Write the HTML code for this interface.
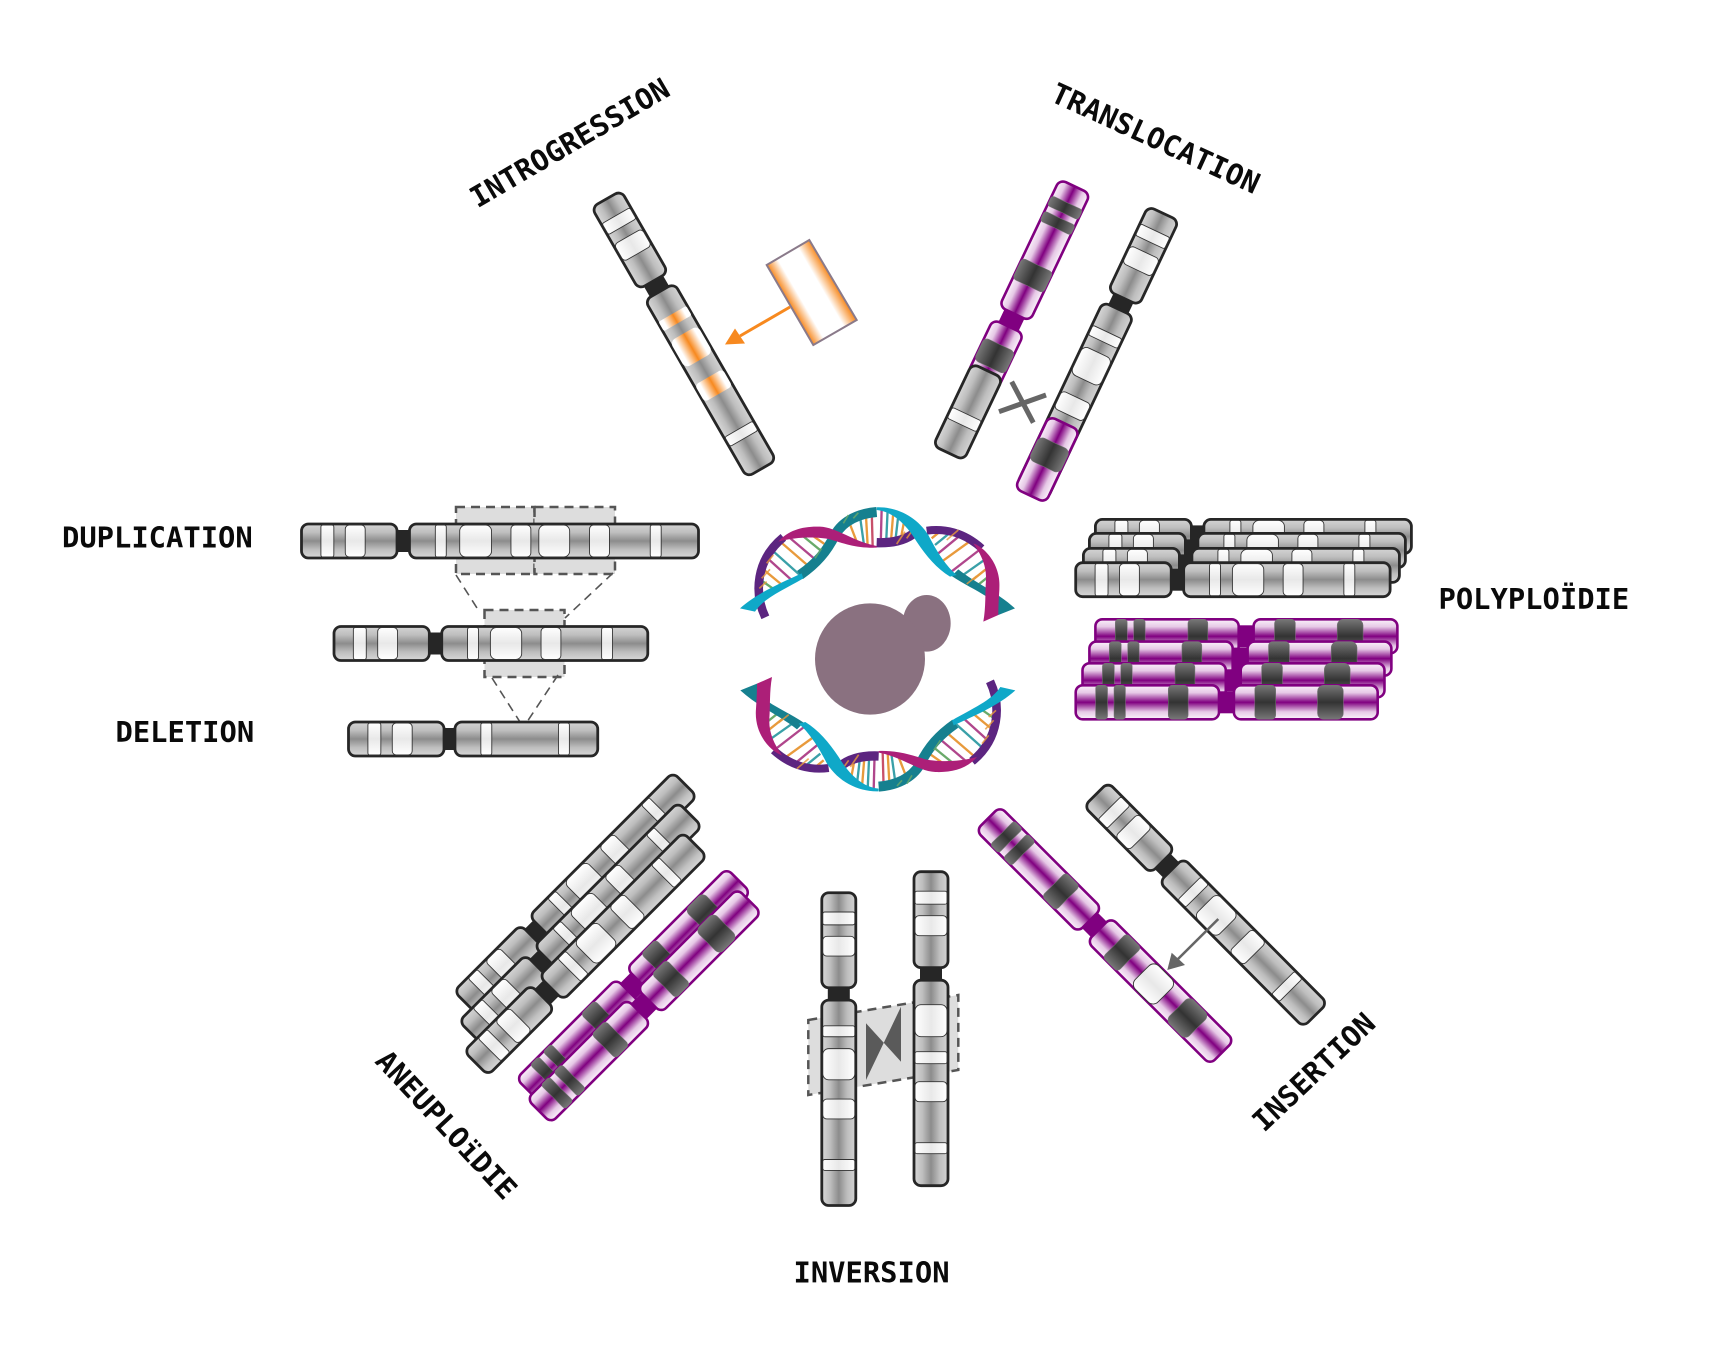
<!DOCTYPE html>
<html><head><meta charset="utf-8"><style>
html,body{margin:0;padding:0;background:#fff}
svg{display:block}
text{font-family:"DejaVu Sans Mono","Liberation Mono",monospace;font-weight:bold;font-size:28.8px;fill:#0a0a0a}
.a{fill:url(#gr);stroke:#262626;stroke-width:2.8}
.w{fill:url(#wh);stroke:#333;stroke-width:.9}
.c{fill:#262626}
.p{fill:url(#pu);stroke:#800080;stroke-width:2.6}
.d{fill:url(#dk);stroke:#777;stroke-width:.5}
.m{fill:#800080}
.box{fill:#ddd;stroke:#555;stroke-width:2.5;stroke-dasharray:9 6}
.dl{fill:none;stroke:#555;stroke-width:1.6;stroke-dasharray:9 6}
</style></head><body>
<svg width="1732" height="1346" viewBox="0 0 1732 1346" xmlns="http://www.w3.org/2000/svg">
<defs>
<linearGradient id="gr" x1="0" y1="0" x2="0" y2="1"><stop offset="0" stop-color="#d4d4d4"/><stop offset=".25" stop-color="#bebebe"/><stop offset=".5" stop-color="#8c8c8c"/><stop offset=".75" stop-color="#bebebe"/><stop offset="1" stop-color="#d8d8d8"/></linearGradient>
<linearGradient id="wh" x1="0" y1="0" x2="0" y2="1"><stop offset="0" stop-color="#fff"/><stop offset=".5" stop-color="#e8e8e8"/><stop offset="1" stop-color="#fff"/></linearGradient>
<linearGradient id="pu" x1="0" y1="0" x2="0" y2="1"><stop offset="0" stop-color="#fbf3fb"/><stop offset=".22" stop-color="#e6c8e6"/><stop offset=".5" stop-color="#800080"/><stop offset=".78" stop-color="#e6c8e6"/><stop offset="1" stop-color="#fbf3fb"/></linearGradient>
<linearGradient id="dk" x1="0" y1="0" x2="0" y2="1"><stop offset="0" stop-color="#777"/><stop offset=".5" stop-color="#333"/><stop offset="1" stop-color="#777"/></linearGradient>
<linearGradient id="or" x1="0" y1="0" x2="0" y2="1"><stop offset="0" stop-color="#fff"/><stop offset=".15" stop-color="#fff"/><stop offset=".5" stop-color="#f7891f"/><stop offset=".85" stop-color="#fff"/><stop offset="1" stop-color="#fff"/></linearGradient>
<linearGradient id="orect" gradientUnits="userSpaceOnUse" x1="790" y1="305" x2="833" y2="280"><stop offset="0" stop-color="#f7891f"/><stop offset=".25" stop-color="#fff"/><stop offset=".72" stop-color="#fff"/><stop offset="1" stop-color="#f7891f"/></linearGradient>

<g id="sa">
<rect class="c" x="92" y="-11" width="20" height="22"/>
<rect class="a" x="0" y="-17" width="96" height="34" rx="7"/>
<rect class="w" x="19.5" y="-16" width="13" height="32" rx="2"/>
<rect class="w" x="44" y="-16" width="20" height="32" rx="4"/>
</g>
<g id="g"><use href="#sa"/>
<rect class="a" x="108.5" y="-17" width="207.5" height="34" rx="7"/>
<rect class="w" x="134.5" y="-16" width="11" height="32" rx="2"/>
<rect class="w" x="157.5" y="-16" width="31.5" height="32" rx="6"/>
<rect class="w" x="208.5" y="-16" width="20" height="32" rx="4"/>
<rect class="w" x="269.5" y="-16" width="11" height="32" rx="2"/>
</g>
<g id="gi"><use href="#sa"/>
<rect class="a" x="108.5" y="-17" width="205.5" height="34" rx="7"/>
<rect class="w" x="133" y="-16" width="32" height="32" rx="6"/>
<rect class="w" x="180" y="-16" width="12" height="32" rx="2"/>
<rect class="w" x="210" y="-16" width="20" height="32" rx="4"/>
<rect class="w" x="271" y="-16" width="11" height="32" rx="2"/>
</g>
<g id="gdup"><use href="#sa"/>
<rect class="a" x="108.5" y="-17" width="290.5" height="34" rx="7"/>
<rect class="w" x="134.5" y="-16" width="11" height="32" rx="2"/>
<rect class="w" x="159" y="-16" width="32" height="32" rx="6"/>
<rect class="w" x="210.5" y="-16" width="20" height="32" rx="4"/>
<rect class="w" x="238.5" y="-16" width="31" height="32" rx="6"/>
<rect class="w" x="289.5" y="-16" width="20" height="32" rx="4"/>
<rect class="w" x="350.5" y="-16" width="11" height="32" rx="2"/>
</g>
<g id="gdel"><use href="#sa"/>
<rect class="a" x="107" y="-17" width="143.5" height="34" rx="7"/>
<rect class="w" x="133" y="-16" width="11" height="32" rx="2"/>
<rect class="w" x="211" y="-16" width="11" height="32" rx="2"/>
</g>
<g id="g3"><use href="#sa"/>
<rect class="a" x="108.5" y="-17" width="207.5" height="34" rx="7"/>
<rect x="134.5" y="-16" width="11" height="32" rx="2" fill="url(#or)"/>
<rect x="157.5" y="-16" width="31.5" height="32" rx="6" fill="url(#or)"/>
<rect x="208.5" y="-16" width="20" height="32" rx="4" fill="url(#or)"/>
<rect class="w" x="269.5" y="-16" width="11" height="32" rx="2"/>
</g>
<g id="ps">
<rect class="m" x="140" y="-11" width="22" height="22"/>
<rect class="p" x="0" y="-17" width="144" height="34" rx="7"/>
<rect class="d" x="20" y="-17" width="12" height="34" rx="3"/>
<rect class="d" x="38.5" y="-17" width="11.5" height="34" rx="3"/>
<rect class="d" x="93" y="-17" width="20" height="34" rx="4"/>
</g>
<g id="p"><use href="#ps"/>
<rect class="p" x="159" y="-17" width="144.5" height="34" rx="7"/>
<rect class="d" x="180" y="-17" width="21" height="34" rx="4"/>
<rect class="d" x="243" y="-17" width="26" height="34" rx="6"/>
</g>
<g id="pins"><use href="#ps"/>
<rect class="p" x="157" y="-17" width="174" height="34" rx="7"/>
<rect class="d" x="179" y="-17" width="21" height="34" rx="4"/>
<rect class="w" x="218" y="-16.5" width="32" height="33" rx="7"/>
<rect class="d" x="268" y="-17" width="28" height="34" rx="6"/>
</g>

<g id="dnaHalf">
<g stroke-width="7" fill="none">
<path stroke="#6aaa6a" d="M115 295L165 330"/>
<path stroke="#e89a3c" d="M120 260L190 318"/>
<path stroke="#b0468c" d="M135 228L220 305"/>
<path stroke="#3aa0a8" d="M150 205L245 290"/>
<path stroke="#e89a3c" d="M175 180L270 262"/>
<path stroke="#b0468c" d="M205 170L290 242"/>
<path stroke="#6aaa6a" d="M245 165L310 218"/>
<path stroke="#e89a3c" d="M275 165L325 200"/>
<path stroke="#e89a3c" d="M385 120L412 190"/>
<path stroke="#3aa0a8" d="M418 95L432 195"/>
<path stroke="#e89a3c" d="M437 90L443 198"/>
<path stroke="#c8506a" d="M455 88L458 200"/>
<path stroke="#b0468c" d="M485 85L482 200"/>
<path stroke="#3aa0a8" d="M503 88L498 198"/>
<path stroke="#e89a3c" d="M520 95L512 195"/>
<path stroke="#3aa0a8" d="M535 105L525 192"/>
<path stroke="#e89a3c" d="M552 125L540 190"/>
<path stroke="#3aa0a8" d="M800 235L715 295"/>
<path stroke="#b0468c" d="M778 210L690 278"/>
<path stroke="#e89a3c" d="M755 180L665 245"/>
<path stroke="#e89a3c" d="M805 262L745 310"/>
<path stroke="#6aaa6a" d="M805 290L770 318"/>
<path stroke="#b0468c" d="M728 160L655 220"/>
<path stroke="#3aa0a8" d="M700 150L645 195"/>
<path stroke="#e89a3c" d="M672 145L635 175"/>
</g>
<g fill="none">
<path stroke="#5c2580" stroke-width="26" d="M136 412C102 340 107 240 190 172"/>
<path stroke="#5c2580" stroke-width="28" d="M470 188C520 190 565 180 595 148"/>
<path stroke="#5c2580" stroke-width="24" d="M620 152C670 145 730 155 785 205"/>
<path stroke="#16808f" stroke-width="30" d="M240 285C290 250 320 215 345 165C370 120 420 100 470 96"/>
</g>
<path fill="#16808f" d="M885 385L835 405L800 350C770 330 730 312 695 288L715 268C760 305 830 335 885 385Z"/>
<g stroke-width="5" fill="none" opacity=".8">
<path stroke="#e89a3c" d="M125 295L150 268M118 325L140 305M140 250L160 225"/>
<path stroke="#6aaa6a" d="M285 235L305 205M370 130L385 105M400 115L415 98"/>
<path stroke="#e89a3c" d="M530 192L555 155M560 175L578 150M680 180L715 150"/>
<path stroke="#e89a3c" d="M740 312L770 288"/>
</g>
<path fill="#ac1f78" d="M175 185C205 150 250 138 300 140C350 142 400 185 470 198L470 203C410 205 370 190 330 178C290 170 230 170 175 185Z"/>
<path fill="#ac1f78" d="M790 425C798 380 795 340 798 300C800 260 785 225 760 190C790 200 845 250 838 330C836 360 835 385 835 405Z"/>
<path fill="#0fa8c8" d="M60 385C110 340 180 310 245 280L250 295C190 330 130 355 105 395Z"/>
<path fill="#0fa8c8" d="M470 82C530 80 590 110 625 165C650 215 680 260 710 285L690 290C650 265 620 230 590 185C560 135 520 95 470 90Z"/>
</g>
</defs>

<rect width="1732" height="1346" fill="#fff"/>

<!-- centre -->
<g transform="translate(720 480) scale(.33333)">
<use href="#dnaHalf"/>
<use href="#dnaHalf" transform="rotate(180 473 508)"/>
<ellipse cx="620" cy="430" rx="72" ry="85" fill="#8a7180"/>
<ellipse cx="450" cy="537" rx="165" ry="167" fill="#8a7180"/>
</g>

<!-- duplication / deletion -->
<rect class="box" x="456" y="507" width="78.5" height="67"/>
<rect class="box" x="534.5" y="507" width="80.5" height="67"/>
<path class="dl" d="M456 575L477 608"/>
<path class="dl" d="M613 573L565 618"/>
<rect class="box" x="484.5" y="610" width="80" height="67"/>
<path class="dl" d="M492 678L520 722"/>
<path class="dl" d="M558 675L523 728"/>
<use href="#gdup" transform="translate(301.5 541) scale(.995 1)"/>
<use href="#g" transform="translate(334 643.5) scale(.993 1)"/>
<use href="#gdel" transform="translate(348.5 739) scale(.995 1)"/>

<!-- polyploidy gray -->
<use href="#g" transform="translate(1095.4 536.4)"/>
<use href="#g" transform="translate(1089.4 550.4)"/>
<use href="#g" transform="translate(1083.4 565.4)"/>
<use href="#g" transform="translate(1075.7 579.7) scale(.995 1)"/>
<!-- polyploidy purple -->
<use href="#p" transform="translate(1095.4 636.3) scale(.995 1)"/>
<use href="#p" transform="translate(1089.4 658.6) scale(.995 1)"/>
<use href="#p" transform="translate(1082.5 680.3) scale(.995 1)"/>
<use href="#p" transform="translate(1075.7 702.3) scale(.995 1)"/>

<!-- introgression -->
<use href="#g3" transform="translate(606.3 199) rotate(60.1) scale(.985 1)"/>
<polygon points="766.7,265 809.3,240 856.7,320 813.3,345" fill="url(#orect)" stroke="#8a7a8a" stroke-width="2"/>
<path d="M790 307L740 336" stroke="#f7891f" stroke-width="3" fill="none"/>
<polygon points="725,344.5 745,343.5 735,328.5" fill="#f7891f"/>

<!-- translocation -->
<g transform="translate(1075 186.5) rotate(115.4)">
<rect class="m" x="137" y="-11" width="22" height="22"/>
<rect class="p" x="0" y="-17" width="141" height="34" rx="7"/>
<rect class="d" x="18" y="-17" width="11" height="34" rx="3"/>
<rect class="d" x="35" y="-17" width="11" height="34" rx="3"/>
<rect class="d" x="87" y="-17" width="23" height="34" rx="4"/>
<rect class="p" x="155" y="-17" width="60" height="34" rx="7"/>
<rect class="d" x="175" y="-17" width="25" height="34" rx="5"/>
<rect class="a" x="204" y="-17" width="91" height="34" rx="7"/>
<rect class="w" x="252" y="-16" width="12" height="32" rx="2"/>
</g>
<g transform="translate(1163.5 213.5) rotate(115.3)">
<use href="#g" transform="scale(.975 1)"/>
<rect class="p" x="232" y="-17" width="80" height="34" rx="7"/>
<rect class="d" x="254" y="-17" width="26" height="34" rx="6"/>
</g>
<path d="M1011.7 381.7L1033.3 422.7M999 411.7L1046 395" stroke="#666" stroke-width="5" fill="none"/>

<!-- insertion -->
<use href="#pins" transform="translate(988 818.5) rotate(45)"/>
<use href="#g" transform="translate(1096 794.3) rotate(45.2) scale(.985 1)"/>
<path d="M1218.3 919L1177 960" stroke="#666" stroke-width="2.6" fill="none"/>
<polygon points="1167.3,970 1171.7,952.7 1185,965" fill="#666"/>

<!-- inversion -->
<polygon class="box" points="808.3,1020 958.3,995 958.3,1070 808.3,1095"/>
<polygon points="866,1023.3 901,1061.7 901,1006.7 866,1080" fill="#5a5a5a"/>
<use href="#g" transform="translate(838.8 892.7) rotate(90) scale(.99 1)"/>
<use href="#gi" transform="translate(931 871.7) rotate(90)"/>

<!-- aneuploidy -->
<use href="#g" transform="translate(466 1003.3) rotate(-45) scale(.98 1)"/>
<use href="#g" transform="translate(471 1033.3) rotate(-45) scale(.98 1)"/>
<use href="#g" transform="translate(476 1063.3) rotate(-45) scale(.98 1)"/>
<use href="#p" transform="translate(528.3 1090.7) rotate(-45) scale(.98 1)"/>
<use href="#p" transform="translate(539 1111) rotate(-45) scale(.98 1)"/>

<!-- labels -->
<text x="62" y="547.5">DUPLICATION</text>
<text x="115.5" y="742">DELETION</text>
<text x="1438.5" y="609">POLYPLOÏDIE</text>
<text x="793.5" y="1282.5">INVERSION</text>
<text transform="translate(477.5 208.5) rotate(-30.4)">INTROGRESSION</text>
<text transform="translate(1049 100.5) rotate(24.6)">TRANSLOCATION</text>
<text transform="translate(1264 1133) rotate(-43.5)">INSERTION</text>
<text transform="translate(374 1062) rotate(47)">ANEUPLOïDIE</text>
</svg>
</body></html>
